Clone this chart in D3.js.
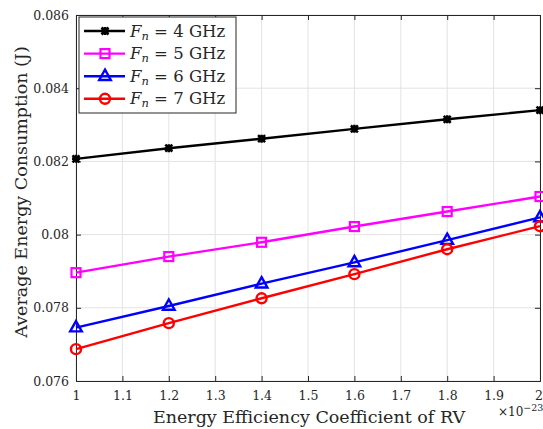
<!DOCTYPE html>
<html>
<head>
<meta charset="utf-8">
<script src="https://cdn.jsdelivr.net/npm/d3@7/dist/d3.min.js"></script>
<style>
  body { margin: 0; background: #fff; }
  svg text { font-family: "DejaVu Serif", serif; fill: #262626; }
</style>
</head>
<body>
<div id="chart"></div>
<script>
// data
var coef = [1, 1.2, 1.4, 1.6, 1.8, 2];
var f4 = [0.08207, 0.08236, 0.08262, 0.08289, 0.08315, 0.0834];
var f5 = [0.07896, 0.0794, 0.07979, 0.08022, 0.08063, 0.08104];
var f6 = [0.07746, 0.07805, 0.07866, 0.07924, 0.07985, 0.08047];
var f7 = [0.07687, 0.07758, 0.07826, 0.07892, 0.0796, 0.08023];
var xTicks = [1, 1.1, 1.2, 1.3, 1.4, 1.5, 1.6, 1.7, 1.8, 1.9, 2];
var yTicks = [0.076, 0.078, 0.08, 0.082, 0.084, 0.086];

var series = [
    {ghz: 4, values: f4, color: "#000000", marker: "star"},
    {ghz: 5, values: f5, color: "#ff00ff", marker: "square"},
    {ghz: 6, values: f6, color: "#0000ff", marker: "triangle"},
    {ghz: 7, values: f7, color: "#ff0000", marker: "circle"}
];

var W = 543, H = 429;
var margin = {left: 76, right: 3, top: 15, bottom: 48};
var iw = W - margin.left - margin.right,
    ih = H - margin.top - margin.bottom;

var svg = d3.select("#chart").append("svg")
    .attr("width", W)
    .attr("height", H);

var x = d3.scaleLinear().domain([1, 2]).range([0, iw]);
var y = d3.scaleLinear().domain([0.076, 0.086]).range([ih, 0]);

var g = svg.append("g").attr("transform", "translate(" + margin.left + "," + margin.top + ")");

// grid
g.append("g").selectAll("line").data(xTicks).enter().append("line")
    .attr("x1", function (d) { return x(d); })
    .attr("x2", function (d) { return x(d); })
    .attr("y1", 0).attr("y2", ih)
    .attr("stroke", "#e3e3e3").attr("stroke-width", 1);
g.append("g").selectAll("line").data(yTicks).enter().append("line")
    .attr("y1", function (d) { return y(d); })
    .attr("y2", function (d) { return y(d); })
    .attr("x1", 0).attr("x2", iw)
    .attr("stroke", "#e3e3e3").attr("stroke-width", 1);

// axes, matlab style (ticks inside)
var fmtY = function (d) { return d3.format(".3f")(d).replace(/0+$/, ""); };
var xAxis = g.append("g").attr("transform", "translate(0," + ih + ")")
    .call(d3.axisBottom(x).tickValues(xTicks).tickSize(-5).tickPadding(10)
        .tickFormat(function (d) { return d3.format("")(d); }));
var xTop = g.append("g")
    .call(d3.axisTop(x).tickValues(xTicks).tickSize(-5).tickFormat(""));
var yAxis = g.append("g")
    .call(d3.axisLeft(y).tickValues(yTicks).tickSize(-5).tickPadding(7).tickFormat(fmtY));
var yRight = g.append("g").attr("transform", "translate(" + iw + ",0)")
    .call(d3.axisRight(y).tickValues(yTicks).tickSize(-5).tickFormat(""));
[xAxis, xTop, yAxis, yRight].forEach(function (a) {
    a.attr("font-family", null);
    a.select(".domain").attr("stroke", "#262626").attr("stroke-width", 1);
    a.selectAll(".tick line").attr("stroke", "#262626");
    a.selectAll("text").attr("font-size", 12.5).attr("fill", "#262626");
});
// keep the last x label inside the page
xAxis.selectAll(".tick text").filter(function (d) { return d === 2; }).attr("dx", -1.5);

// lines
var line = d3.line()
    .x(function (d, i) { return x(coef[i]); })
    .y(function (d) { return y(d); });

function drawMarker(sel, type, color) {
    if (type === "star") {
        sel.append("path")
            .attr("d", "M-3.5,-3.5L3.5,3.5M-3.5,3.5L3.5,-3.5M0,-4L0,4M-4,0L4,0")
            .attr("stroke", color).attr("stroke-width", 2.5).attr("fill", "none");
    } else if (type === "square") {
        sel.append("rect").attr("x", -4.5).attr("y", -4.5).attr("width", 9).attr("height", 9)
            .attr("stroke", color).attr("stroke-width", 2.2).attr("fill", "none");
    } else if (type === "triangle") {
        sel.append("path").attr("d", "M0,-6.5L5.8,3.8L-5.8,3.8Z")
            .attr("stroke", color).attr("stroke-width", 2.4).attr("fill", "none");
    } else {
        sel.append("circle").attr("r", 5)
            .attr("stroke", color).attr("stroke-width", 2.4).attr("fill", "none");
    }
}

series.forEach(function (s) {
    g.append("path").datum(s.values)
        .attr("d", line)
        .attr("fill", "none")
        .attr("stroke", s.color)
        .attr("stroke-width", 2.4);
    s.values.forEach(function (v, i) {
        var m = g.append("g").attr("transform", "translate(" + x(coef[i]) + "," + y(v) + ")");
        drawMarker(m, s.marker, s.color);
    });
});

// labels
svg.append("text")
    .attr("x", margin.left + iw / 2 + 1).attr("y", H - 6)
    .attr("text-anchor", "middle").attr("font-size", 17.5)
    .text("Energy Efficiency Coefficient of RV");
svg.append("text")
    .attr("transform", "translate(27," + (margin.top + ih / 2 - 6) + ") rotate(-90)")
    .attr("text-anchor", "middle").attr("font-size", 17.5)
    .text("Average Energy Consumption (J)");
var ex = svg.append("text").attr("x", 498).attr("y", 416).attr("font-size", 12);
ex.append("tspan").text("\u00d710");
ex.append("tspan").attr("dy", -5).attr("font-size", 9.5).text("\u221223");

// legend
var lg = svg.append("g").attr("transform", "translate(79,17)");
lg.append("rect").attr("width", 157).attr("height", 96)
    .attr("fill", "#fff").attr("stroke", "#262626").attr("stroke-width", 1);
series.forEach(function (s, i) {
    var row = lg.append("g").attr("transform", "translate(0," + (14 + i * 22.6) + ")");
    row.append("line").attr("x1", 5).attr("x2", 46).attr("y1", 0).attr("y2", 0)
        .attr("stroke", s.color).attr("stroke-width", 2.4);
    drawMarker(row.append("g").attr("transform", "translate(26,0)"), s.marker, s.color);
    var t = row.append("text").attr("x", 51).attr("y", 5.5).attr("font-size", 16.5);
    t.append("tspan").attr("font-style", "italic").text("F");
    t.append("tspan").attr("font-style", "italic").attr("font-size", 11.5).attr("dy", 3).text("n");
    t.append("tspan").attr("dy", -3).text(" = " + s.ghz + " GHz");
});
</script>
</body>
</html>
